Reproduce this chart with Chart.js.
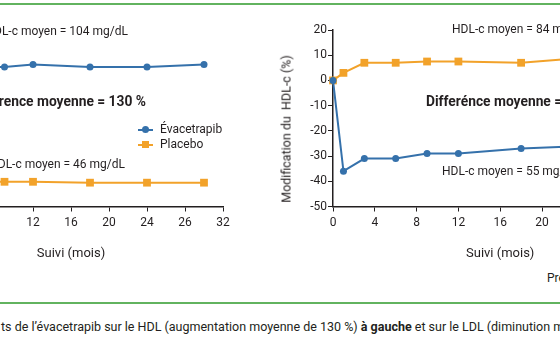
<!doctype html>
<html><head><meta charset="utf-8">
<script src="https://cdn.jsdelivr.net/npm/chart.js@4.4.1/dist/chart.umd.min.js"></script>
<style>
* { margin:0; padding:0; box-sizing:border-box; }
html,body { width:560px; height:340px; overflow:hidden; background:#fff;
  font-family:Roboto,'Noto Sans',sans-serif; color:#231f20; }
canvas { position:absolute; top:0; }
#hdl { left:-150px; }
#chg { left:276px; }
.rule { position:absolute; left:0; width:560px; height:2px; background:#62b35f; }
.note { position:absolute; font-size:12px; line-height:14px; white-space:nowrap; }
.note.big { font-size:13.8px; font-weight:700; line-height:16px; }
.legend { position:absolute; left:138px; top:122px; font-size:12px; line-height:15px; }
.legend div { position:relative; padding-left:22px; white-space:nowrap; }
.legend i { position:absolute; left:0; top:7px; width:15px; height:2px; }
.legend b { position:absolute; left:4px; top:4px; width:7px; height:7px; }
.ylab { position:absolute; left:286px; top:129px; font-size:12.5px; white-space:pre;
  transform:translate(-50%,-50%) rotate(-90deg); }
.cap { position:absolute; top:319px; font-size:12.5px; line-height:16px; white-space:nowrap; }
</style></head>
<body>
<div class="rule" style="top:3px"></div>
<div class="rule" style="top:302px"></div>

<canvas id="hdl" width="400" height="262"></canvas>
<canvas id="chg" width="420" height="262"></canvas>

<div class="note" style="right:432px; top:24px">HDL-c moyen = 104 mg/dL</div>
<div class="note big" style="right:414px; top:93px">Différence moyenne = 130 %</div>
<div class="note" style="right:435px; top:157px">HDL-c moyen = 46 mg/dL</div>

<div class="legend">
  <div><i style="background:#3571ab"></i><b style="background:#3571ab;border-radius:50%"></b>Évacetrapib</div>
  <div><i style="background:#f2a22a"></i><b style="background:#f2a22a"></b>Placebo</div>
</div>

<div class="note" style="left:452px; top:22px">HDL-c moyen = 84 mg/dL</div>
<div class="note big" style="left:426px; top:93px">Differénce moyenne = −37 %</div>
<div class="note" style="left:442px; top:164px">HDL-c moyen = 55 mg/dL</div>
<div class="ylab">Modification du  HDL-c (%)</div>
<div class="note" style="left:547px; top:271px">Prescrire</div>

<div class="cap" style="right:561px">Figure 1. Effe</div>
<div class="cap" style="left:1px">ts de l’évacetrapib sur le HDL (augmentation moyenne de 130 %) <b>à gauche</b> et sur le LDL (diminution moyenne de 37 %) à droite.</div>

<script>
// suivi en mois
const months = [0, 1, 3, 6, 9, 12, 18, 24, 30];
// gauche : HDL-c (%)
const hdlEvac = [0, 120, 130, 133, 133, 136, 133, 133, 136];
const hdlPlacebo = [0, 2, 3, 3, 3, 3, 2, 2, 2];
// droite : modification du HDL-c (%)
const chgEvac = [0, -36, -31, -31, -29, -29, -27, -26, -26];
const chgPlacebo = [0, 3, 7, 7, 7.5, 7.5, 7, 9, 8];
const xTicksLeft = ['0', '4', '8', '12', '16', '20', '24', '26', '32'];
const xTicksRight = ['0', '4', '8', '12', '16', '20', '24', '28', '32'];
const yTicksRight = ['20', '10', '0', '-10', '-20', '-30', '-40', '-50'];

const BLUE = '#3571ab', ORANGE = '#f2a22a', INK = '#231f20';
Chart.defaults.font.family = 'Roboto';
Chart.defaults.font.size = 12;
Chart.defaults.color = INK;

const pts = (ys) => months.map((m, i) => ({ x: m, y: ys[i] }));

function axisLook() {
  return {
    grid: { display: true, drawOnChartArea: false, drawTicks: true, tickLength: 5, color: INK, lineWidth: 1 },
    border: { display: true, color: INK, width: 1.5 },
  };
}

function makeChart(id, evac, placebo, xLabels, y, yAxisW, padRight) {
  const H = 262, bottom = 206.5;
  new Chart(document.getElementById(id), {
    type: 'line',
    data: {
      datasets: [
        { label: 'Évacetrapib', data: pts(evac), borderColor: BLUE, backgroundColor: BLUE,
          borderWidth: 2, pointStyle: 'circle', pointRadius: 3.5, pointBorderWidth: 0, clip: false },
        { label: 'Placebo', data: pts(placebo), borderColor: ORANGE, backgroundColor: ORANGE,
          borderWidth: 2, pointStyle: 'rect', pointRadius: 5.5, pointBorderWidth: 0, clip: false },
      ],
    },
    options: {
      responsive: false, animation: false,
      layout: { padding: { left: 0, top: 30, right: padRight, bottom: 0 } },
      plugins: { legend: { display: false }, tooltip: { enabled: false } },
      scales: {
        x: {
          type: 'linear', min: 0, max: 32, ...axisLook(),
          ticks: { stepSize: 4, padding: 4, callback: (v, i) => xLabels[i] },
          title: { display: true, text: 'Suivi (mois)', font: { size: 13 }, padding: 0 },
          afterFit: (s) => { s.height = H - bottom; },
        },
        y: {
          min: y.min, max: y.max, ...axisLook(),
          ticks: { stepSize: y.step, padding: 1, callback: y.cb },
          afterFit: (s) => { s.width = yAxisW; },
        },
      },
    },
  });
}

makeChart('hdl', hdlEvac, hdlPlacebo, xTicksLeft,
  { min: -25, max: 175, step: 25 }, 69, 27);
makeChart('chg', chgEvac, chgPlacebo, xTicksRight,
  { min: -50, max: 20, step: 10, cb: (v, i, t) => yTicksRight[t.length - 1 - i] }, 57, 28.6);
</script>
</body></html>
